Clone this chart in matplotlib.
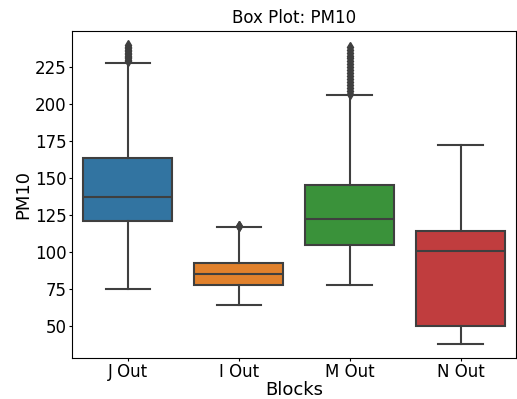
import matplotlib
matplotlib.use("Agg")
import matplotlib.pyplot as plt

# Box statistics (PM10 by block)
blocks = ["J Out", "I Out", "M Out", "N Out"]
whislo = [75.0, 64.0, 77.5, 38.0]
q1 = [121.0, 77.5, 105.0, 50.0]
med = [137.0, 85.5, 122.5, 100.5]
q3 = [164.0, 93.0, 145.5, 114.5]
whishi = [228.0, 117.0, 206.0, 172.5]
fliers = [
    [229, 230, 231, 232, 233, 234, 235, 236, 237, 238, 239, 240],
    [117.5, 118],
    [207, 209, 211, 213, 215, 217, 219, 221, 223, 225, 227, 229, 231, 233, 235, 237, 238.5],
    [],
]
colors = ["#3274a1", "#e1812c", "#3a923a", "#c03d3e"]
line_col = "#3f3f3f"

stats = []
for i, name in enumerate(blocks):
    stats.append(dict(label=name, whislo=whislo[i], q1=q1[i], med=med[i],
                      q3=q3[i], whishi=whishi[i], fliers=fliers[i]))

fig, ax = plt.subplots(figsize=(5.17, 3.99), dpi=100)
fig.subplots_adjust(left=0.14, right=0.998, top=0.922, bottom=0.103)

bp = ax.bxp(stats, positions=range(len(blocks)), widths=0.8, patch_artist=True,
            boxprops=dict(edgecolor=line_col, linewidth=1.5),
            medianprops=dict(color=line_col, linewidth=1.5),
            whiskerprops=dict(color=line_col, linewidth=1.5),
            capprops=dict(color=line_col, linewidth=1.5),
            flierprops=dict(marker="d", markersize=5, markerfacecolor=line_col,
                            markeredgecolor=line_col, linestyle="none"),
            capwidths=0.4)
for patch, c in zip(bp["boxes"], colors):
    patch.set_facecolor(c)

ax.set_xlim(-0.5, 3.5)
ax.set_ylim(28.5, 249.5)
ax.set_yticks([50, 75, 100, 125, 150, 175, 200, 225])
ax.tick_params(labelsize=12, length=2.5, pad=1.5)
ax.set_xlabel("Blocks", fontsize=13, labelpad=0)
ax.set_ylabel("PM10", fontsize=13, labelpad=2)
ax.set_title("Box Plot: PM10", fontsize=12)

fig.savefig("out.png")
